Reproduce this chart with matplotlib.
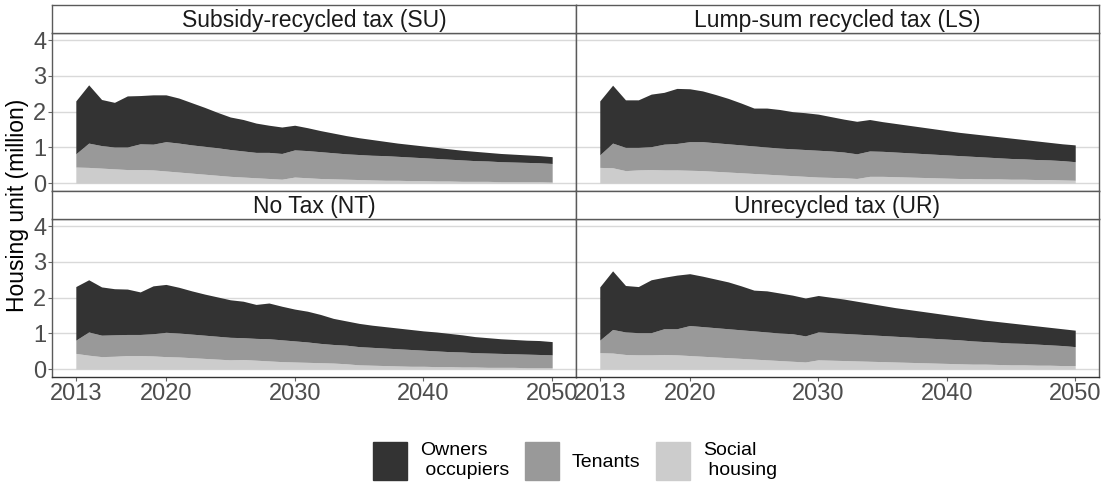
import numpy as np
import matplotlib
matplotlib.use("Agg")
import matplotlib.pyplot as plt
from matplotlib.patches import Patch

plt.rcParams['font.family'] = ['Liberation Sans', 'DejaVu Sans']

years = np.arange(2013, 2051)

# cumulative levels (million units):
# social = top of social housing, tenants = top of tenants, total = top of owners
su_social = [0.45, 0.44, 0.42, 0.40, 0.38, 0.38, 0.37, 0.34, 0.31, 0.28, 0.25, 0.22, 0.19, 0.17, 0.15, 0.13, 0.11, 0.17, 0.15, 0.13,
             0.12, 0.11, 0.10, 0.09, 0.08, 0.08, 0.07, 0.07, 0.06, 0.06, 0.05, 0.05, 0.05, 0.04, 0.04, 0.04, 0.04, 0.03]
su_tenants = [0.82, 1.12, 1.05, 1.01, 1.01, 1.10, 1.09, 1.16, 1.12, 1.07, 1.03, 0.99, 0.94, 0.90, 0.86, 0.86, 0.83, 0.93, 0.91, 0.88,
              0.85, 0.82, 0.80, 0.78, 0.77, 0.75, 0.73, 0.71, 0.69, 0.67, 0.65, 0.63, 0.62, 0.60, 0.59, 0.58, 0.57, 0.55]
su_total = [2.30, 2.75, 2.34, 2.26, 2.44, 2.45, 2.47, 2.47, 2.38, 2.25, 2.12, 1.98, 1.85, 1.78, 1.68, 1.62, 1.57, 1.62, 1.55, 1.47,
            1.40, 1.33, 1.27, 1.22, 1.17, 1.12, 1.08, 1.04, 1.00, 0.96, 0.92, 0.89, 0.86, 0.83, 0.81, 0.79, 0.77, 0.74]

ls_social = [0.44, 0.43, 0.35, 0.37, 0.38, 0.37, 0.37, 0.36, 0.35, 0.33, 0.31, 0.29, 0.27, 0.25, 0.23, 0.21, 0.19, 0.17, 0.16, 0.15,
             0.13, 0.19, 0.19, 0.18, 0.17, 0.16, 0.15, 0.14, 0.13, 0.13, 0.12, 0.12, 0.11, 0.11, 0.10, 0.10, 0.09, 0.08]
ls_tenants = [0.79, 1.12, 1.00, 1.00, 1.02, 1.09, 1.11, 1.16, 1.16, 1.13, 1.10, 1.07, 1.04, 1.01, 0.98, 0.96, 0.94, 0.92, 0.90, 0.87,
              0.82, 0.90, 0.89, 0.87, 0.85, 0.83, 0.81, 0.79, 0.77, 0.75, 0.73, 0.71, 0.69, 0.68, 0.66, 0.65, 0.63, 0.60]
ls_total = [2.30, 2.74, 2.33, 2.33, 2.49, 2.54, 2.65, 2.64, 2.58, 2.48, 2.37, 2.24, 2.10, 2.10, 2.06, 2.00, 1.97, 1.93, 1.86, 1.79,
            1.73, 1.78, 1.72, 1.67, 1.62, 1.57, 1.52, 1.47, 1.42, 1.38, 1.34, 1.30, 1.26, 1.22, 1.18, 1.14, 1.10, 1.07]

nt_social = [0.44, 0.39, 0.35, 0.36, 0.38, 0.38, 0.37, 0.35, 0.34, 0.32, 0.30, 0.28, 0.26, 0.27, 0.25, 0.23, 0.21, 0.20, 0.19, 0.18,
             0.17, 0.15, 0.12, 0.11, 0.10, 0.09, 0.08, 0.08, 0.07, 0.07, 0.06, 0.06, 0.05, 0.05, 0.05, 0.04, 0.04, 0.04]
nt_tenants = [0.81, 1.04, 0.95, 0.96, 0.97, 0.97, 0.99, 1.03, 1.01, 0.98, 0.95, 0.92, 0.89, 0.88, 0.86, 0.85, 0.82, 0.79, 0.76, 0.72,
              0.69, 0.67, 0.63, 0.61, 0.59, 0.57, 0.55, 0.53, 0.51, 0.49, 0.48, 0.46, 0.45, 0.44, 0.43, 0.42, 0.41, 0.40]
nt_total = [2.31, 2.50, 2.30, 2.25, 2.24, 2.16, 2.33, 2.37, 2.29, 2.19, 2.10, 2.02, 1.94, 1.90, 1.81, 1.85, 1.76, 1.68, 1.62, 1.53,
            1.42, 1.35, 1.28, 1.23, 1.19, 1.15, 1.11, 1.07, 1.04, 1.00, 0.96, 0.91, 0.88, 0.85, 0.83, 0.81, 0.80, 0.77]

ur_social = [0.46, 0.45, 0.41, 0.40, 0.40, 0.41, 0.40, 0.38, 0.36, 0.34, 0.32, 0.30, 0.28, 0.26, 0.24, 0.22, 0.20, 0.26, 0.25, 0.24,
             0.23, 0.22, 0.21, 0.20, 0.19, 0.18, 0.17, 0.16, 0.15, 0.14, 0.14, 0.13, 0.12, 0.12, 0.11, 0.11, 0.10, 0.10]
ur_tenants = [0.81, 1.11, 1.04, 1.02, 1.02, 1.13, 1.13, 1.22, 1.19, 1.16, 1.13, 1.10, 1.07, 1.04, 1.01, 0.99, 0.93, 1.04, 1.02, 1.00,
              0.98, 0.96, 0.94, 0.92, 0.90, 0.88, 0.86, 0.84, 0.82, 0.79, 0.77, 0.75, 0.73, 0.72, 0.70, 0.68, 0.66, 0.63]
ur_total = [2.30, 2.75, 2.34, 2.31, 2.50, 2.57, 2.63, 2.67, 2.60, 2.52, 2.44, 2.33, 2.21, 2.19, 2.13, 2.07, 1.99, 2.06, 2.01, 1.96,
            1.90, 1.84, 1.78, 1.72, 1.67, 1.62, 1.57, 1.52, 1.47, 1.42, 1.37, 1.33, 1.29, 1.25, 1.21, 1.17, 1.13, 1.09]

titles = ["Subsidy-recycled tax (SU)", "Lump-sum recycled tax (LS)", "No Tax (NT)", "Unrecycled tax (UR)"]
panels = [(su_social, su_tenants, su_total), (ls_social, ls_tenants, ls_total),
          (nt_social, nt_tenants, nt_total), (ur_social, ur_tenants, ur_total)]
legend_labels = ["Owners\n occupiers", "Tenants", "Social\n housing"]
x_ticks = [2013, 2020, 2030, 2040, 2050]
y_ticks = [0, 1, 2, 3, 4]

c_own, c_ten, c_soc = "#333333", "#999999", "#cccccc"
border = "#5a5a5a"

W, H = 1104, 486
fig = plt.figure(figsize=(W / 100, H / 100), dpi=100)

# pixel boxes for the panels (left, right) and (top, bottom)
cols = [(52, 576), (576, 1099)]
rows = [(33, 191), (219, 377)]
strip_h = 28


def box(x0, x1, y0, y1):
    return [x0 / W, 1 - y1 / H, (x1 - x0) / W, (y1 - y0) / H]


for i, (title, (soc, ten, tot)) in enumerate(zip(titles, panels)):
    r, c = divmod(i, 2)
    x0, x1 = cols[c]
    y0, y1 = rows[r]
    ax = fig.add_axes(box(x0, x1, y0, y1))
    ax.fill_between(years, 0, soc, color=c_soc, lw=0)
    ax.fill_between(years, soc, ten, color=c_ten, lw=0)
    ax.fill_between(years, ten, tot, color=c_own, lw=0)
    ax.set_xlim(2011.15, 2051.85)
    ax.set_ylim(-0.22, 4.2)
    ax.set_yticks(y_ticks)
    ax.set_xticks(x_ticks)
    ax.grid(axis='y', color='#d9d9d9', lw=1)
    ax.set_axisbelow(True)
    for s in ax.spines.values():
        s.set_color(border)
        s.set_linewidth(1)
    if r == 1:
        ax.spines['bottom'].set_color('#333333')
    ax.tick_params(length=3, width=0.8, color='#666666', labelsize=17, labelcolor='#4d4d4d', pad=1)
    if c == 1:
        ax.tick_params(axis='y', left=False, labelleft=False)
    if r == 0:
        ax.tick_params(axis='x', bottom=False, labelbottom=False)

    sax = fig.add_axes(box(x0, x1, y0 - strip_h, y0))
    sax.set_xticks([])
    sax.set_yticks([])
    for s in sax.spines.values():
        s.set_color(border)
        s.set_linewidth(1)
    sax.text(0.5, 0.45, title, ha='center', va='center', fontsize=16.5, color='#1a1a1a',
             transform=sax.transAxes)

fig.text(18 / W, 1 - 205 / H, "Housing unit (million)", rotation=90, ha='center', va='center',
         fontsize=16.5, color='black')

handles = [Patch(color=c_own), Patch(color=c_ten), Patch(color=c_soc)]
fig.legend(handles, legend_labels, loc='center', bbox_to_anchor=(575 / W, 1 - 461 / H), ncol=3,
           frameon=False, fontsize=14, handlelength=1.76, handleheight=2.65, handletextpad=0.65,
           columnspacing=0.8)

fig.savefig("out.png", dpi=100)
